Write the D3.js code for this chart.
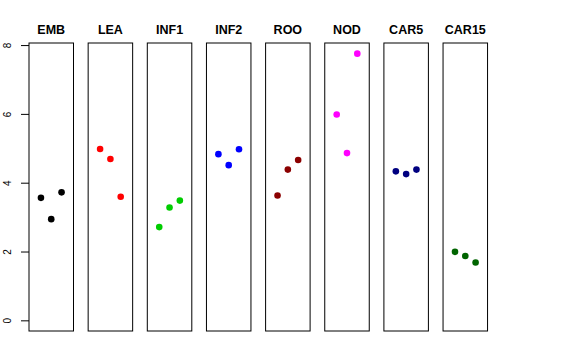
<!DOCTYPE html>
<html><head><meta charset="utf-8">
<script src="https://cdn.jsdelivr.net/npm/d3@7/dist/d3.min.js"></script>
<style>body{margin:0;background:#fff}svg{display:block}</style>
</head><body>
<script>
const categories = ["EMB","LEA","INF1","INF2","ROO","NOD","CAR5","CAR15"];
const colors = ["#000000","#FF0000","#00CD00","#0000FF","#8B0000","#FF00FF","#000080","#006400"];
const rep1 = [3.56, 4.98, 2.71, 4.83, 3.63, 5.98, 4.33, 1.99];
const rep2 = [2.94, 4.69, 3.28, 4.51, 4.38, 4.86, 4.25, 1.87];
const rep3 = [3.72, 3.59, 3.48, 4.97, 4.66, 7.75, 4.38, 1.68];
const yTicks = [0, 2, 4, 6, 8];

const W = 576, H = 360;
const svg = d3.select("body").append("svg").attr("width", W).attr("height", H);

const panelW = 44.5, panelStep = 59.15, panelX0 = 29;
const plotTop = 43, plotBottom = 331;
const yMin = 0, yMax = d3.max([...rep1, ...rep2, ...rep3]);
const pad = (yMax - yMin) * 0.04;
const y = d3.scaleLinear().domain([yMin - pad, yMax + pad]).range([plotBottom, plotTop]);
const x = d3.scaleLinear().domain([-0.16, 4.16]).range([0, panelW]);

categories.forEach((cat, i) => {
  const g = svg.append("g").attr("transform", `translate(${panelX0 + i * panelStep},0)`);
  g.append("rect").attr("x", 0).attr("y", plotTop).attr("width", panelW).attr("height", plotBottom - plotTop)
    .attr("fill", "none").attr("stroke", "#000").attr("stroke-width", 1);
  g.append("text").attr("x", panelW / 2).attr("y", 34).attr("text-anchor", "middle")
    .attr("font-family", "Liberation Sans, Arial, sans-serif").attr("font-weight", "bold")
    .attr("font-size", 12.5).text(cat);
  const vals = [rep1[i], rep2[i], rep3[i]];
  g.selectAll("circle").data(vals).enter().append("circle")
    .attr("cx", (d, j) => x(j + 1)).attr("cy", d => y(d)).attr("r", 3.3)
    .attr("fill", colors[i]);
  if (i === 0) {
    const ax = g.append("g").call(d3.axisLeft(y).tickValues(yTicks).tickSize(8).tickPadding(0));
    ax.select(".domain").remove();
    ax.selectAll(".tick line").attr("stroke", "#000");
    ax.selectAll(".tick text")
      .attr("font-family", "Liberation Sans, Arial, sans-serif").attr("font-size", 10)
      .attr("fill", "#000")
      .attr("text-anchor", "middle").attr("dy", null)
      .attr("x", null)
      .attr("transform", "translate(-22,0) rotate(-90)")
      .attr("dominant-baseline", "central");
  }
});
</script>
</body></html>
